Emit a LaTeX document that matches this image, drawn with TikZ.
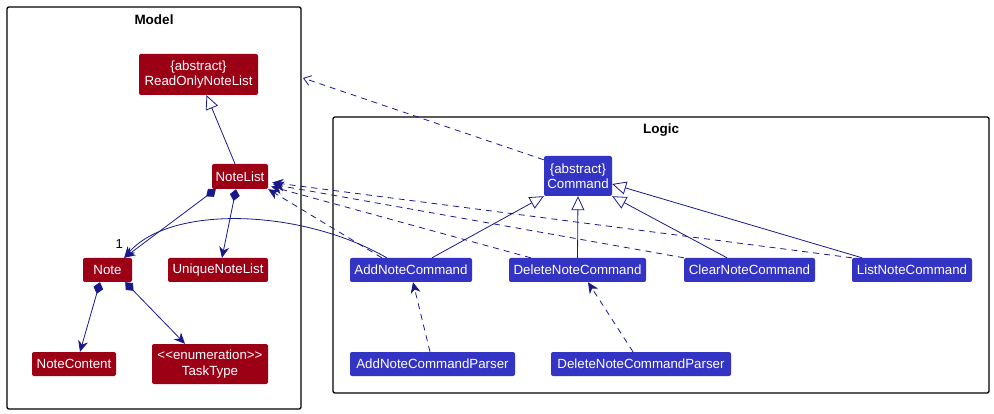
\documentclass[tikz,border=0pt]{standalone}
\usepackage{fontspec}
\setmainfont{Liberation Sans}
\usetikzlibrary{arrows.meta}

\definecolor{modelred}{RGB}{155,0,20}
\definecolor{logicblue}{RGB}{51,51,196}
\definecolor{linkblue}{RGB}{24,24,140}

\tikzset{
    modelbox/.style = {fill=modelred, text=white, rounded corners=2pt, inner sep=2pt, align=center, font=\fontsize{13.3}{15.5}\selectfont},
    logicbox/.style = {fill=logicblue, text=white, rounded corners=2pt, inner sep=2pt, align=center, font=\fontsize{13.3}{15.5}\selectfont},
    frame/.style = {draw=black, line width=1.3pt, rounded corners=2pt},
    frametitle/.style = {font=\fontsize{13.5}{15}\selectfont\bfseries},
    link/.style = {draw=linkblue, line width=0.8pt},
    dep/.style = {link, dashed, dash pattern=on 6pt off 5pt},
    isa/.style = {link, -{Triangle[open, length=14pt, width=13pt]}},
    owns/.style = {link, {Diamond[length=12pt, width=10pt]}-{Stealth[length=11pt, width=10pt, inset=3.5pt]}},
    uses/.style = {-{Stealth[length=11pt, width=10pt, inset=3.5pt]}}
}

\begin{document}
\begin{tikzpicture}[x=1pt, y=-1pt]
            \useasboundingbox (0,0) rectangle (994,414);
            %package frames with their titles
            \draw[frame] (7,7) rectangle (301,409);
            \node[frametitle] (model title) at (154,20) {Model};
            \draw[frame] (333,117) rectangle (989,393);
            \node[frametitle] (logic title) at (661,130) {Logic};
            \coordinate (model port) at (303,78);

            %Model classes
            \node[modelbox, minimum width=119pt, minimum height=41pt] (rol) at (198.5,74.5) {\{abstract\}\\ReadOnlyNoteList};
            \node[modelbox, minimum width=56pt, minimum height=25pt] (notelist) at (240,176.5) {NoteList};
            \node[modelbox, minimum width=49pt, minimum height=24pt] (note) at (107.5,270) {Note};
            \node[modelbox, minimum width=100pt, minimum height=24pt] (unique) at (218,270) {UniqueNoteList};
            \node[modelbox, minimum width=84pt, minimum height=24pt] (content) at (74,364) {NoteContent};
            \node[modelbox, minimum width=116pt, minimum height=40pt] (tasktype) at (210,364) {<{}<enumeration>{}>\\TaskType};

            %Logic classes
            \node[logicbox, minimum width=68pt, minimum height=40pt] (command) at (578,176) {\{abstract\}\\Command};
            \node[logicbox, minimum width=122pt, minimum height=24pt] (addcmd) at (411,270) {AddNoteCommand};
            \node[logicbox, minimum width=137pt, minimum height=24pt] (delcmd) at (577.5,270) {DeleteNoteCommand};
            \node[logicbox, minimum width=131pt, minimum height=24pt] (clrcmd) at (749.5,270) {ClearNoteCommand};
            \node[logicbox, minimum width=120pt, minimum height=24pt] (lstcmd) at (912,270) {ListNoteCommand};
            \node[logicbox, minimum width=165pt, minimum height=24pt] (addparser) at (432.5,364) {AddNoteCommandParser};
            \node[logicbox, minimum width=180pt, minimum height=24pt] (delparser) at (641,364) {DeleteNoteCommandParser};

            %links inside Model
            \draw[isa] ([xshift=-5pt]notelist.north) -- ([xshift=8pt]rol.south);
            \draw[owns] ([xshift=4pt]notelist.south west) -- ([xshift=-8pt]note.north east);
            \draw[owns] ([xshift=-4pt]notelist.south) -- ([xshift=4pt]unique.north);
            \draw[owns] ([xshift=-7.5pt]note.south) -- ([xshift=6pt]content.north);
            \draw[owns] ([xshift=-7pt]note.south east) -- ([xshift=-25pt]tasktype.north);

            %links inside Logic
            \draw[isa] ([xshift=21pt]addcmd.north) -- (command.south west);
            \draw[isa] (delcmd.north) -- (command.south);
            \draw[isa] ([xshift=-22.5pt]clrcmd.north) -- (command.south east);
            \draw[isa] ([xshift=-50pt]lstcmd.north) -- ([yshift=-8pt]command.east);
            \draw[dep, uses] ([xshift=-2.5pt]addparser.north) -- ([xshift=2pt]addcmd.south);
            \draw[dep, uses] ([xshift=-8pt]delparser.north) -- ([xshift=10.5pt]delcmd.south);

            %links from Logic to Model
            \draw[dep, -{Straight Barb[length=7pt, width=10pt]}] ([yshift=-4pt]command.north west) -- (model port);
            \draw[dep, uses] ([xshift=32pt]addcmd.north west) -- (notelist.south east);
            \draw[dep, uses] ([xshift=22pt]delcmd.north west) -- ([xshift=3pt,yshift=-10pt]notelist.east);
            \draw[dep, uses] (clrcmd.north west) -- ([xshift=5pt,yshift=-8pt]notelist.east);
            \draw[dep, uses] (lstcmd.north west) -- ([xshift=4pt,yshift=-6pt]notelist.east);
            \draw[link, uses] ([xshift=37pt]addcmd.north west) .. controls (300,208) and (170,205) .. ([xshift=-8pt]note.north east)
                node[pos=1, above=8pt, xshift=-5pt, black, font=\fontsize{13}{15}\selectfont, inner sep=1pt] {1};
\end{tikzpicture}
\end{document}
